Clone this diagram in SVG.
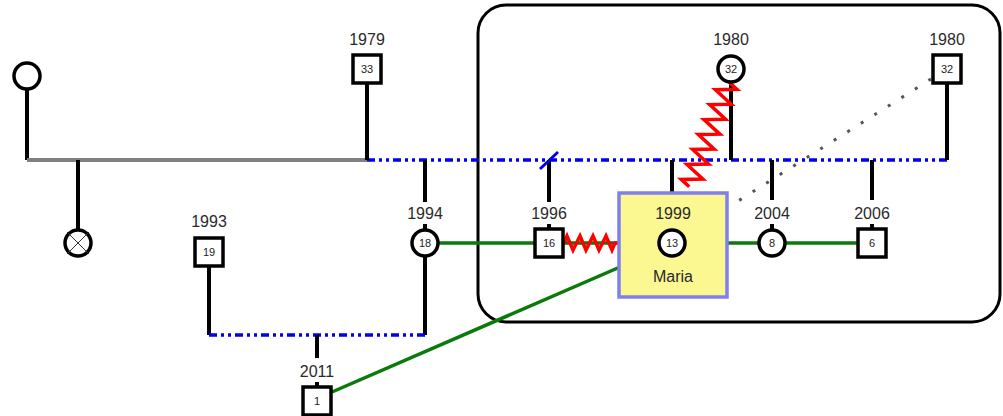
<svg xmlns="http://www.w3.org/2000/svg" width="1003" height="416" viewBox="0 0 1003 416">
<style>
.lbl{font-family:"Liberation Sans",Arial,sans-serif;font-size:16px;fill:#2a2a2a;text-anchor:middle}
.num{font-family:"Liberation Sans",Arial,sans-serif;font-size:11px;fill:#222;text-anchor:middle}
.sq{fill:#fff;stroke:#000;stroke-width:3.5}
.ci{fill:#fff;stroke:#000;stroke-width:3.5}
.blk{stroke:#000;stroke-width:4;fill:none}
.blue{stroke:#0000ee;stroke-width:3.5;stroke-dasharray:8 4 3 4 3 4;fill:none}
.grn{stroke:#0a7a0a;stroke-width:3.5;fill:none}
.red{stroke:#ff0000;stroke-width:3.5;fill:none;stroke-linejoin:miter}
.dot{stroke:#555;stroke-width:3;stroke-dasharray:3 13;fill:none}
</style>
<rect x="478" y="5" width="522" height="317" rx="28" ry="28" fill="none" stroke="#000" stroke-width="3"/>
<g id="connectors">
<line class="blk" x1="27" y1="89" x2="27" y2="160"/>
<line x1="27" y1="160" x2="367" y2="160" stroke="#808080" stroke-width="4"/>
<line class="blk" x1="78" y1="160" x2="78" y2="229"/>
<line class="blue" x1="367" y1="160" x2="947" y2="160"/>
<line class="blk" x1="367" y1="83" x2="367" y2="160"/>
<line class="blk" x1="731" y1="83" x2="731" y2="160"/>
<line class="blk" x1="947" y1="83" x2="947" y2="160"/>
<line class="blk" x1="425" y1="160" x2="425" y2="202"/>
<line class="blk" x1="549" y1="160" x2="549" y2="202"/>
<line class="blk" x1="672" y1="160" x2="672" y2="192"/>
<line class="blk" x1="772" y1="160" x2="772" y2="200"/>
<line class="blk" x1="872" y1="160" x2="872" y2="200"/>
<line x1="540" y1="169" x2="558" y2="152" stroke="#0000ee" stroke-width="3"/>
<line class="blk" x1="425" y1="257" x2="425" y2="335"/>
<line class="blk" x1="209" y1="266" x2="209" y2="335"/>
<line class="blue" x1="209" y1="335" x2="425" y2="335"/>
<line class="blk" x1="317" y1="335" x2="317" y2="358"/>
<line class="blk" x1="317" y1="382" x2="317" y2="387"/>
<line class="blk" x1="425" y1="224" x2="425" y2="229"/>
<line class="blk" x1="549" y1="224" x2="549" y2="229"/>
<line class="blk" x1="772" y1="224" x2="772" y2="229"/>
<line class="blk" x1="872" y1="224" x2="872" y2="229"/>
<line class="grn" x1="439" y1="243" x2="535" y2="243"/>
<line class="grn" x1="563" y1="243" x2="619" y2="243"/>
<line class="grn" x1="727" y1="243" x2="858" y2="243"/>
<line class="grn" x1="332" y1="392" x2="620" y2="267"/>
<polyline class="red" points="564,243 567,236 573,250 580,236 586,250 593,236 599,250 606,236 612,250 615,243 618,243"/>
<g transform="translate(729,82) rotate(110.8)">
<polyline class="red" points="0,0 4,-10 12,10 20,-10 28,10 36,-10 44,10 52,-10 60,10 68,-10 76,10 84,-10 92,10 100,-10 108,10 112,0"/>
</g>
<line class="dot" x1="931" y1="79" x2="735" y2="203"/>
</g>
<g id="n-topleft"><circle class="ci" cx="27" cy="76" r="13"/></g>
<g id="n-deceased">
<circle class="ci" cx="78" cy="243" r="13"/>
<line x1="67" y1="232" x2="89" y2="254" stroke="#333" stroke-width="1"/>
<line x1="89" y1="232" x2="67" y2="254" stroke="#333" stroke-width="1"/>
</g>
<g id="n-1979"><text class="lbl" x="367" y="45">1979</text><rect class="sq" x="353" y="55" width="28" height="28"/><text class="num" x="367" y="73">33</text></g>
<g id="n-1980f"><text class="lbl" x="731" y="45">1980</text><circle class="ci" cx="731" cy="69" r="13"/><text class="num" x="731" y="73">32</text></g>
<g id="n-1980m"><text class="lbl" x="947" y="45">1980</text><rect class="sq" x="933" y="55" width="28" height="28"/><text class="num" x="947" y="73">32</text></g>
<g id="n-1993"><text class="lbl" x="209" y="227">1993</text><rect class="sq" x="195" y="238" width="28" height="28"/><text class="num" x="209" y="256">19</text></g>
<g id="n-1994"><text class="lbl" x="425" y="219">1994</text><circle class="ci" cx="425" cy="243" r="13"/><text class="num" x="425" y="247">18</text></g>
<g id="n-1996"><text class="lbl" x="549" y="219">1996</text><rect class="sq" x="535" y="229" width="28" height="28"/><text class="num" x="549" y="247">16</text></g>
<g id="n-maria">
<rect x="619" y="193" width="108" height="104" fill="#fbf791" stroke="#7f7fee" stroke-width="3.5"/>
<text class="lbl" x="673" y="219">1999</text>
<circle class="ci" cx="672" cy="243" r="13"/><text class="num" x="672" y="247">13</text>
<text class="lbl" x="673" y="282">Maria</text>
</g>
<g id="n-2004"><text class="lbl" x="772" y="219">2004</text><circle class="ci" cx="772" cy="243" r="13"/><text class="num" x="772" y="247">8</text></g>
<g id="n-2006"><text class="lbl" x="872" y="219">2006</text><rect class="sq" x="858" y="229" width="28" height="28"/><text class="num" x="872" y="247">6</text></g>
<g id="n-2011"><text class="lbl" x="317" y="377">2011</text><rect class="sq" x="303" y="387" width="28" height="28"/><text class="num" x="317" y="405">1</text></g>
</svg>
